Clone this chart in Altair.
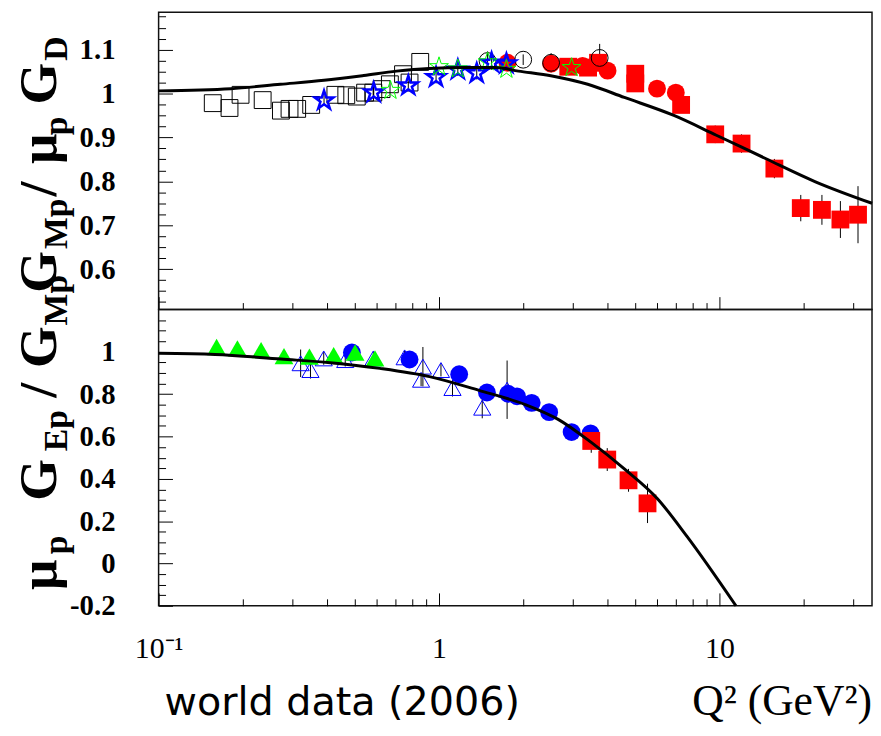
import altair as alt
import pandas as pd

# ---------------- data ----------------
# Upper panel: G_Mp / (mu_p G_D)
top_open_sq_q2 = [0.156, 0.179, 0.196, 0.235, 0.273, 0.293, 0.312, 0.350, 0.427,
                  0.467, 0.509, 0.545, 0.583, 0.624, 0.668, 0.744, 0.785, 0.857]
top_open_sq_val = [0.978, 0.967, 0.997, 0.985, 0.961, 0.965, 0.965, 0.974, 0.997,
                   0.996, 0.993, 1.002, 1.002, 1.010, 1.021, 1.044, 1.025, 1.072]

top_blue_star_q2 = [0.389, 0.585, 0.777, 0.976, 1.167, 1.363, 1.540, 1.739]
top_blue_star_val = [0.984, 1.002, 1.018, 1.037, 1.054, 1.046, 1.070, 1.068]
top_blue_star_err = [0.012, 0.012, 0.012, 0.014, 0.014, 0.014, 0.016, 0.016]

top_green_star_q2 = [0.671, 1.000, 1.167, 1.490, 1.739, 2.97]
top_green_star_val = [1.007, 1.061, 1.056, 1.072, 1.055, 1.059]

top_open_circ_q2 = [1.49, 1.996, 2.51, 3.74]
top_open_circ_val = [1.074, 1.077, 1.070, 1.081]
top_open_circ_err = [0.022, 0.012, 0.022, 0.032]

top_red_circ_q2 = [1.754, 2.51, 3.25, 3.99, 5.99, 6.99]
top_red_circ_val = [1.070, 1.068, 1.063, 1.052, 1.011, 1.002]
top_red_circ_err = [0.010, 0.010, 0.010, 0.010, 0.010, 0.012]

top_red_sq_q2 = [2.89, 3.40, 3.69, 5.01, 5.01, 7.30, 9.66, 11.99, 15.7, 19.5, 23.2, 27.0, 31.2]
top_red_sq_val = [1.061, 1.059, 1.070, 1.045, 1.023, 0.974, 0.907, 0.886, 0.829,
                  0.739, 0.735, 0.713, 0.724]
top_red_sq_err = [0.010, 0.010, 0.014, 0.015, 0.015, 0.015, 0.020, 0.021, 0.022,
                  0.030, 0.034, 0.042, 0.065]

top_curve_q2 = [0.1, 0.181, 0.272, 0.389, 0.539, 0.705, 0.922, 1.25, 1.59, 1.92,
                2.53, 3.39, 4.58, 6.88, 9.75, 14.6, 22.0, 35.0]
top_curve_val = [1.006, 1.011, 1.021, 1.030, 1.041, 1.051, 1.057, 1.059, 1.059, 1.051,
                 1.040, 1.021, 0.991, 0.950, 0.905, 0.852, 0.799, 0.750]

# Lower panel: mu_p G_Ep / G_Mp
bot_green_tri_q2 = [0.161, 0.191, 0.232, 0.280, 0.345, 0.421, 0.502, 0.591]
bot_green_tri_val = [1.023, 1.016, 1.008, 0.980, 0.977, 0.985, 0.997, 0.969]

bot_open_tri_q2 = [0.321, 0.348, 0.388, 0.463, 0.583, 0.754, 0.876, 0.863, 1.016,
                   1.117, 1.426, 1.749]
bot_open_tri_val = [0.946, 0.914, 0.969, 0.961, 0.969, 0.974, 0.930, 0.868, 0.914,
                    0.829, 0.736, 0.821]
bot_open_tri_err = [0.065, 0.040, 0.030, 0.030, 0.030, 0.030, 0.093, 0.030, 0.030,
                    0.040, 0.050, 0.138]

bot_blue_circ_q2 = [0.489, 0.785, 1.180, 1.482, 1.763, 1.897, 2.14, 2.47, 2.97, 3.47]
bot_blue_circ_val = [0.997, 0.964, 0.894, 0.808, 0.802, 0.790, 0.759, 0.715, 0.621, 0.615]
bot_blue_circ_err = [0.020, 0.020, 0.020, 0.020, 0.020, 0.020, 0.020, 0.020, 0.025, 0.035]

bot_red_sq_q2 = [3.49, 3.98, 4.74, 5.54]
bot_red_sq_val = [0.579, 0.491, 0.393, 0.284]
bot_red_sq_err = [0.056, 0.054, 0.054, 0.093]

bot_curve_q2 = [0.1, 0.159, 0.273, 0.409, 0.615, 0.925, 1.388, 2.03, 2.66, 3.49,
                4.58, 6.00, 7.66, 11.45]
bot_curve_val = [0.993, 0.988, 0.966, 0.949, 0.922, 0.883, 0.818, 0.751, 0.681, 0.572,
                 0.447, 0.307, 0.128, -0.200]

# axis tick values
x_major = [0.1, 1, 10]
x_minor = [0.2, 0.3, 0.4, 0.5, 0.6, 0.7, 0.8, 0.9, 2, 3, 4, 5, 6, 7, 8, 9, 20, 30]
yt_major = [0.6, 0.7, 0.8, 0.9, 1.0, 1.1]
yt_minor = [0.525, 0.55, 0.575, 0.625, 0.65, 0.675, 0.725, 0.75, 0.775, 0.825, 0.85,
            0.875, 0.925, 0.95, 0.975, 1.025, 1.05, 1.075, 1.125, 1.15, 1.175]
yb_major = [-0.2, 0.0, 0.2, 0.4, 0.6, 0.8, 1.0]
yb_minor = [-0.15, -0.1, -0.05, 0.05, 0.1, 0.15, 0.25, 0.3, 0.35, 0.45, 0.5, 0.55,
            0.65, 0.7, 0.75, 0.85, 0.9, 0.95, 1.05, 1.1, 1.15]

# ---------------- styling helpers ----------------
STAR = ("M0,-1L0.2245,-0.309L0.951,-0.309L0.363,0.118L0.588,0.809L0,0.382"
        "L-0.588,0.809L-0.363,0.118L-0.951,-0.309L-0.2245,-0.309Z")
SERIF = "Liberation Serif"
GREEN = "#00ff00"
W, HT, HB = 720, 300, 299

XS = alt.Scale(type="log", domain=[0.1, 35], nice=False, zero=False)
YT = alt.Scale(domain=[0.508, 1.185], nice=False, zero=False)
YB = alt.Scale(domain=[-0.2, 1.2], nice=False, zero=False)

ONE = pd.DataFrame({"k": [0]})


def frame(q, v, e=None):
    d = {"q2": q, "val": v}
    if e is not None:
        d["lo"] = [a - b for a, b in zip(v, e)]
        d["hi"] = [a + b for a, b in zip(v, e)]
    return pd.DataFrame(d)


def points(df, ys, **mk):
    return alt.Chart(df).mark_point(opacity=1, **mk).encode(
        x=alt.X("q2:Q", scale=XS, axis=None),
        y=alt.Y("val:Q", scale=ys, axis=None))


def bars(df, ys):
    return alt.Chart(df).mark_rule(color="black", strokeWidth=1).encode(
        x=alt.X("q2:Q", scale=XS, axis=None),
        y=alt.Y("lo:Q", scale=ys, axis=None),
        y2="hi:Q")


AXC = dict(domain=False, grid=False, tickColor="black", tickWidth=1, title=None,
           labelOverlap=False, labelFlush=False, labelBound=False)


def curve(df, ys, ymaj, ymin, xlabels):
    base = alt.Chart(df)
    if xlabels:
        xlab = dict(labels=True, labelFont=SERIF, labelFontSize=30, labelColor="black",
                    labelPadding=28,
                    labelExpr="datum.value < 0.5 ? '10\u207b\u00b9' : (datum.value < 5 ? '1' : '10')")
    else:
        xlab = dict(labels=False)
    line = base.mark_line(color="black", strokeWidth=3, interpolate="monotone").encode(
        x=alt.X("q2:Q", scale=XS,
                axis=alt.Axis(orient="bottom", values=x_major, offset=-13, tickSize=13,
                              **xlab, **AXC)),
        y=alt.Y("val:Q", scale=ys,
                axis=alt.Axis(orient="left", values=ymaj, offset=-14, tickSize=14,
                              labelFont=SERIF, labelFontWeight="bold", labelFontSize=29,
                              labelColor="black", labelPadding=44,
                              labelExpr="replace(format(datum.value, '~g'), '\u2212', '-')",
                              **AXC)))
    ghost = base.mark_line(strokeOpacity=0).encode(
        x=alt.X("q2:Q", scale=XS,
                axis=alt.Axis(orient="bottom", values=x_minor, offset=-7, tickSize=7,
                              labels=False, **AXC)),
        y=alt.Y("val:Q", scale=ys,
                axis=alt.Axis(orient="left", values=ymin, offset=-7, tickSize=7,
                              labels=False, **AXC)))
    return line, ghost


def txt(s, x, y, size, angle=270, align="left", font=SERIF, weight="bold"):
    return alt.Chart(ONE).mark_text(
        text=s, angle=angle, align=align, baseline="alphabetic", font=font,
        fontSize=size, fontWeight=weight, color="black").encode(
        x=alt.value(x), y=alt.value(y))


BIG, SUB = 54, 34

# ---------------- upper panel ----------------
t_osq = frame(top_open_sq_q2, top_open_sq_val)
t_bst = frame(top_blue_star_q2, top_blue_star_val, top_blue_star_err)
t_gst = frame(top_green_star_q2, top_green_star_val)
t_ocr = frame(top_open_circ_q2, top_open_circ_val, top_open_circ_err)
t_rcr = frame(top_red_circ_q2, top_red_circ_val, top_red_circ_err)
t_rsq = frame(top_red_sq_q2, top_red_sq_val, top_red_sq_err)
t_cur = frame(top_curve_q2, top_curve_val)

t_line, t_ghost = curve(t_cur, YT, yt_major, yt_minor, False)

top = alt.layer(
    t_ghost,
    bars(t_rsq, YT), bars(t_rcr, YT), bars(t_ocr, YT), bars(t_bst, YT),
    points(t_osq, YT, shape="square", filled=False, stroke="black", strokeWidth=1, size=289),
    points(t_rsq, YT, shape="square", filled=True, fill="#ff0000", size=324),
    points(t_rcr, YT, shape="circle", filled=True, fill="#ff0000", size=324),
    points(t_ocr, YT, shape="circle", filled=False, stroke="black", strokeWidth=1, size=289),
    points(t_bst, YT, shape=STAR, filled=False, stroke="#0000ff", strokeWidth=2.5, size=400),
    points(t_gst, YT, shape=STAR, filled=False, stroke=GREEN, strokeWidth=1, size=400),
    t_line,
    txt("G", -104, 283, BIG), txt("Mp", -92, 239, SUB), txt("/", -104, 186, BIG),
    txt("\u03bc", -104, 153, BIG), txt("p", -92, 124, SUB),
    txt("G", -104, 93, BIG), txt("D", -92, 49, SUB),
).resolve_axis(x="independent", y="independent").properties(width=W, height=HT)

# ---------------- lower panel ----------------
b_gtr = frame(bot_green_tri_q2, bot_green_tri_val)
b_otr = frame(bot_open_tri_q2, bot_open_tri_val, bot_open_tri_err)
b_bcr = frame(bot_blue_circ_q2, bot_blue_circ_val, bot_blue_circ_err)
b_rsq = frame(bot_red_sq_q2, bot_red_sq_val, bot_red_sq_err)
b_cur = frame(bot_curve_q2, bot_curve_val)

b_line, b_ghost = curve(b_cur, YB, yb_major, yb_minor, True)

bottom = alt.layer(
    b_ghost,
    bars(b_otr, YB), bars(b_bcr, YB), bars(b_rsq, YB),
    points(b_otr, YB, shape="triangle-up", filled=False, stroke="#0000ff", strokeWidth=1, size=300),
    points(b_bcr, YB, shape="circle", filled=True, fill="#0000ff", size=324),
    points(b_gtr, YB, shape="triangle-up", filled=True, fill=GREEN, size=360),
    points(b_rsq, YB, shape="square", filled=True, fill="#ff0000", size=324),
    b_line,
    txt("\u03bc", -104, 283, BIG), txt("p", -92, 247, SUB),
    txt("G", -104, 193, BIG), txt("Ep", -92, 143, SUB),
    txt("/", -104, 89, BIG), txt("G", -104, 59, BIG), txt("Mp", -92, 16, SUB),
    txt("world data (2006)", 6, 409, 40, angle=0, font="DejaVu Sans", weight="normal"),
    txt("Q\u00b2 (GeV\u00b2)", 720, 409, 44, angle=0, align="right", weight="normal"),
).resolve_axis(x="independent", y="independent").properties(width=W, height=HB)

chart = alt.vconcat(top, bottom, spacing=0, bounds="flush").properties(
    autosize=alt.AutoSizeParams(type="none"),
    padding={"left": 152, "top": 1, "right": 1, "bottom": 717},
    background="white",
).configure_view(stroke="#111111", strokeWidth=1.5)

chart.save("out.html", embed_options={"renderer": "svg", "actions": False})
